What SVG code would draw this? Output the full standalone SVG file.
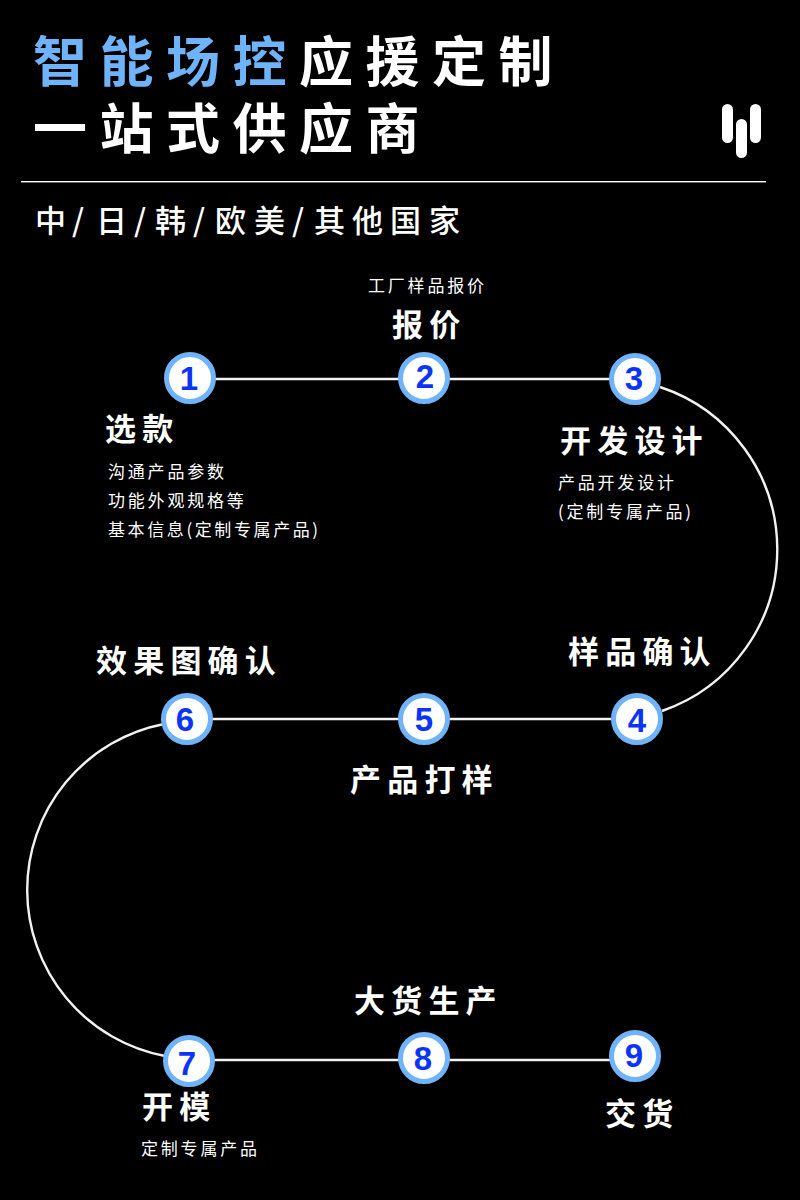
<svg xmlns="http://www.w3.org/2000/svg" width="800" height="1200" viewBox="0 0 800 1200">
<style>
text{font-family:"Noto Sans CJK SC","Liberation Sans",sans-serif;fill:#fff}
.t{font-size:54px;font-weight:700;letter-spacing:12.5px}
.b{fill:#6fb3fa}
.s{font-size:31px;font-weight:500}
.h{font-size:31px;font-weight:700;letter-spacing:6.2px}
.d{font-size:17px;font-weight:400;letter-spacing:2.8px}
.d2{letter-spacing:2.6px}
.n{font-family:"Liberation Sans",sans-serif;font-size:33px;font-weight:700;fill:#0a35f8;text-anchor:middle}
.c{fill:#fff;stroke:#6fb3fa;stroke-width:5}
.l{fill:none;stroke:#f2f2f2;stroke-width:2.4}
</style>
<rect width="800" height="1200" fill="#000"/>
<g id="header">
<text class="t" x="33" y="82"><tspan class="b">智能场控</tspan>应援定制</text>
<text class="t" x="33" y="149">一站式供应商</text>
<rect x="722" y="104" width="11" height="39" rx="5.5" fill="#fff"/>
<rect x="736" y="119" width="11" height="39" rx="5.5" fill="#fff"/>
<rect x="750" y="104" width="11" height="39" rx="5.5" fill="#fff"/>
<rect x="21" y="181" width="745" height="1.4" fill="#fff"/>
<text class="s" x="35 72 96 134 155 193 215 254 292 314 352 390 429" y="232">中/日/韩/欧美/其他国家</text>
</g>
<g id="connectors">
<path class="l" d="M212 379H402M447 379H612"/>
<path class="l" d="M660 387A171 171 0 0 1 662 711"/>
<path class="l" d="M212 719H402M447 719H614"/>
<path class="l" d="M164 724A169 169 0 0 0 165 1056"/>
<path class="l" d="M212 1060H402M447 1060H612"/>
</g>
<g id="node1"><circle class="c" cx="190" cy="378" r="23.5"/><text class="n" x="189" y="390">1</text><text class="h" x="105" y="440">选款</text><text class="d" x="108" y="478">沟通产品参数</text><text class="d" x="108" y="507">功能外观规格等</text><text class="d d2" x="108" y="536">基本信息(定制专属产品)</text></g>
<g id="node2"><circle class="c" cx="424" cy="378" r="23.5"/><text class="n" x="425" y="388">2</text><text class="h" x="392" y="336">报价</text><text class="d" x="368" y="292">工厂样品报价</text></g>
<g id="node3"><circle class="c" cx="635" cy="379" r="23.5"/><text class="n" x="634" y="390">3</text><text class="h" x="560" y="452">开发设计</text><text class="d" x="558" y="489">产品开发设计</text><text class="d" x="558" y="518">(定制专属产品)</text></g>
<g id="node4"><circle class="c" cx="637" cy="719" r="23.5"/><text class="n" x="637" y="732">4</text><text class="h" x="568" y="663">样品确认</text></g>
<g id="node5"><circle class="c" cx="424" cy="719" r="23.5"/><text class="n" x="424" y="731">5</text><text class="h" x="350" y="791">产品打样</text></g>
<g id="node6"><circle class="c" cx="187" cy="719" r="23.5"/><text class="n" x="185" y="731">6</text><text class="h" x="96" y="672">效果图确认</text></g>
<g id="node7"><circle class="c" cx="189" cy="1061" r="23.5"/><text class="n" x="187" y="1075">7</text><text class="h" x="142" y="1118">开模</text><text class="d" x="141" y="1155">定制专属产品</text></g>
<g id="node8"><circle class="c" cx="424" cy="1058" r="23.5"/><text class="n" x="423" y="1070">8</text><text class="h" x="354" y="1012">大货生产</text></g>
<g id="node9"><circle class="c" cx="635" cy="1056" r="23.5"/><text class="n" x="634" y="1067">9</text><text class="h" x="605" y="1125">交货</text></g>
</svg>
